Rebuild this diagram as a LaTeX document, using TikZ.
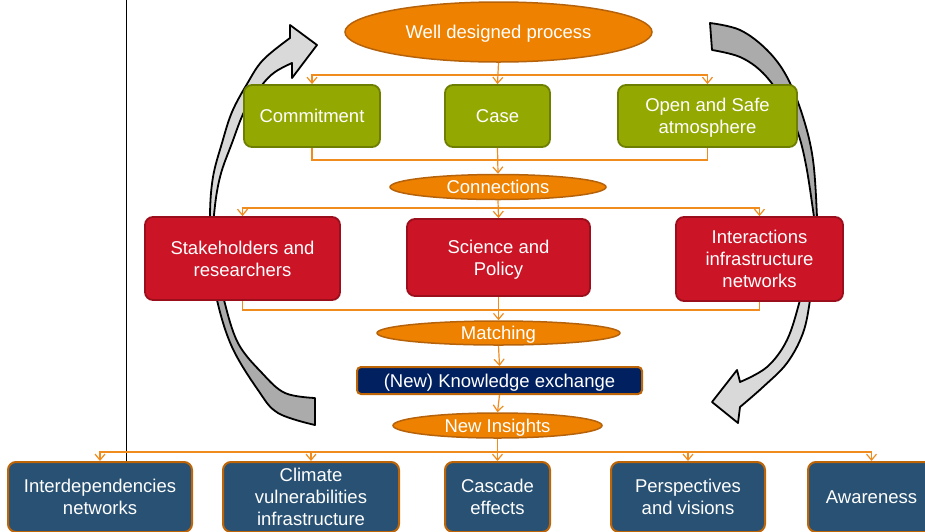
\documentclass[tikz,border=0pt]{standalone}
\usepackage{fontspec}
\setmainfont{Liberation Sans}
\usetikzlibrary{shapes.geometric,arrows.meta}
\definecolor{corange}{HTML}{EE8200}
\definecolor{corangedk}{HTML}{B5620B}
\definecolor{cline}{HTML}{F08C1E}
\definecolor{cgreen}{HTML}{93A800}
\definecolor{cgreendk}{HTML}{6E7E00}
\definecolor{cred}{HTML}{CB1426}
\definecolor{creddk}{HTML}{9B0E1C}
\definecolor{cnavy}{HTML}{002060}
\definecolor{cblue}{HTML}{285173}
\definecolor{cbrd}{HTML}{BE6508}
\definecolor{gdark}{HTML}{ABABAB}
\definecolor{glight}{HTML}{D9D9D9}
\begin{document}
\begin{tikzpicture}[x=1pt,y=-1pt,
  font=\fontsize{18.5}{22}\selectfont,
  box/.style={draw, rounded corners=8pt, line width=1.8pt, text=white, align=center, inner sep=0pt, text depth=0pt},
  greenbox/.style={box, fill=cgreen, draw=cgreendk, minimum height=62pt},
  redbox/.style={box, fill=cred, draw=creddk},
  bluebox/.style={box, fill=cblue, draw=cbrd, line width=2pt, minimum height=70pt},
  navybox/.style={box, rounded corners=4pt, fill=cnavy, draw=cbrd, line width=2pt},
  oval/.style={ellipse, draw=corangedk, fill=corange, line width=1.5pt, text=white, inner sep=0pt, text depth=0pt},
  conn/.style={draw=cline, line width=1.2pt},
  arr/.style={conn, -{Straight Barb[length=6pt,width=10pt]}},
  curved/.style={draw=black, line width=1.8pt, line join=round}
]
\useasboundingbox (0,0) rectangle (925,531);
\clip (0,0) rectangle (925,531);

% vertical black line at left
\draw[line width=0.8pt] (126.5,0) -- (126.5,462);

% left curved arrow: back (dark) part
\draw[curved, fill=gdark] (315,425) -- (315,398)
  -- plot[smooth, tension=0.6] coordinates {(315,398) (285,393) (262,373) (238,343) (224,300) (216,260) (211,225)}
  -- plot[smooth, tension=0.6] coordinates {(211,225) (212,260) (217,300) (232,347) (258,390) (278,413) (315,425)}
  -- cycle;
% left curved arrow: front (light) part with head
\draw[curved, fill=glight] (212,262)
  -- plot[smooth, tension=0.6] coordinates {(212,262) (210,215) (213,177) (222,143) (232,112) (247,84) (263,60) (290,38)}
  -- (290,25) -- (317,45) -- (292,78) -- (292,63)
  -- plot[smooth, tension=0.6] coordinates {(292,63) (275,72) (262,85) (245,110) (232,143) (220,177) (214,215) (212,262)}
  -- cycle;

% right curved arrow: back (dark) part
\draw[curved, fill=gdark] (710,23)
  -- plot[smooth, tension=0.6] coordinates {(710,23) (740,30) (767,50) (787,77) (803,117) (813,160) (817,217) (817,240)}
  -- plot[smooth, tension=0.6] coordinates {(817,240) (814,217) (806,165) (797,130) (783,100) (763,73) (740,57) (712,50)}
  -- cycle;
% right curved arrow: front (light) part with head
\draw[curved, fill=glight] (816,230)
  -- plot[smooth, tension=0.6] coordinates {(816,230) (813,270) (810,300) (803,333) (787,363) (763,387) (740,407)}
  -- (738,423) -- (712,402) -- (737,370) -- (740,382)
  -- plot[smooth, tension=0.6] coordinates {(740,382) (767,367) (787,340) (800,300) (808,265) (816,230)}
  -- cycle;

% nodes
\node[oval, minimum width=307pt, minimum height=60pt] (wdp) at (498.5,32) {Well designed process};
\node[greenbox, minimum width=136pt] (com) at (312,116) {Commitment};
\node[greenbox, minimum width=105pt] (case) at (497.5,116) {Case};
\node[greenbox, minimum width=179pt] (open) at (707.5,116) {Open and Safe\\atmosphere};
\node[oval, minimum width=216pt, minimum height=25pt] (conn) at (498,187) {Connections};
\node[redbox, minimum width=195pt, minimum height=83pt] (stake) at (242.5,258.5) {Stakeholders and\\researchers};
\node[redbox, minimum width=183pt, minimum height=77pt] (sci) at (498.5,257.5) {Science and\\Policy};
\node[redbox, minimum width=167pt, minimum height=84pt] (inter) at (759.5,259) {Interactions\\infrastructure\\networks};
\node[oval, minimum width=243pt, minimum height=24pt] (match) at (498.5,333) {Matching};
\node[navybox, minimum width=285pt, minimum height=27pt] (know) at (499.5,380.5) {(New) Knowledge exchange};
\node[oval, minimum width=209pt, minimum height=25pt] (new) at (497.5,425.5) {New Insights};
\node[bluebox, minimum width=184pt] (b1) at (100,497) {Interdependencies\\networks};
\node[bluebox, minimum width=176pt] (b2) at (311,497) {Climate\\vulnerabilities\\infrastructure};
\node[bluebox, minimum width=105pt] (b3) at (497.5,497) {Cascade\\effects};
\node[bluebox, minimum width=154pt] (b4) at (688,497) {Perspectives\\and visions};
\node[bluebox, minimum width=127pt] (b5) at (871.5,497) {Awareness};

% junction points
\coordinate (j1) at (498.5,75);
\coordinate (j2) at (497.5,160);
\coordinate (j3) at (498,208);
\coordinate (j4) at (498.5,310);
\coordinate (j5) at (497.5,452);

% connectors
\draw[arr] (wdp.south) -- (case.north);
\draw[arr] (j1) -| (com.north);
\draw[arr] (j1) -| (open.north);
\draw[conn] (com.south) |- (j2);
\draw[conn] (open.south) |- (j2);
\draw[arr] (case.south) -- (conn.north);
\draw[arr] (conn.south) -- (sci.north);
\draw[arr] (j3) -| (stake.north);
\draw[arr] (j3) -| (inter.north);
\draw[conn] (stake.south) |- (j4);
\draw[conn] (inter.south) |- (j4);
\draw[arr] (sci.south) -- (match.north);
\draw[arr] (match.south) -- (know.north);
\draw[arr] (know.south) -- (new.north);
\draw[arr] (new.south) -- (b3.north);
\draw[arr] (j5) -| (b1.north);
\draw[arr] (j5) -| (b2.north);
\draw[arr] (j5) -| (b4.north);
\draw[arr] (j5) -| (b5.north);
\end{tikzpicture}
\end{document}
